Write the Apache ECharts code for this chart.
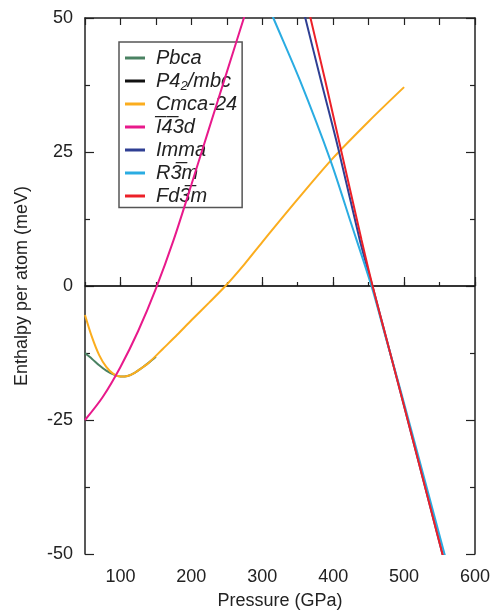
<!DOCTYPE html>
<html><head><meta charset="utf-8">
<script src="https://cdn.jsdelivr.net/npm/echarts@6/dist/echarts.min.js"></script>
<style>html,body{margin:0;padding:0;background:#fff}#c{width:494px;height:612px}</style>
</head><body><div id="c"></div>
<script>
// Series names (legend order)
var names = ['Pbca', 'P4_2/mbc', 'Cmca-24', 'I\u03054\u03053d', 'Imma', 'R3\u0305m', 'Fd3\u0305m'];
var colors = ['#4a8262', '#111111', '#fbad1e', '#e8198b', '#2f3f93', '#2aace2', '#ec2028'];

// [pressure GPa, enthalpy meV/atom]
var pbca = [[50,-12.5],[60,-13.6],[70,-14.8],[80,-15.8],[90,-16.5],[100,-16.9],[110,-16.8],[120,-16.2],[130,-15.3],[140,-14.3],[150,-13.2]];
var p42mbc = [[50,0],[600,0]];
var cmca24 = [[50,-5.4],[60,-9.6],[70,-12.9],[80,-15.1],[90,-16.4],[100,-16.9],[110,-16.8],[120,-16.2],[130,-15.3],[140,-14.3],[160,-11.7],[180,-9.1],[200,-6.4],[225,-3.1],[248,0],[275,4.1],[300,8.2],[350,16.2],[400,23.9],[450,30.7],[500,37.1]];
var i43d = [[50,-25],[75,-20.7],[100,-15.1],[125,-8.4],[150,-0.5],[175,8.6],[200,18.9],[225,29.4],[250,39.9],[275,50.4],[280,52.5]];
var imma = [[358,51.5],[360.7,50],[383,38.2],[406.5,26],[437.5,8.6],[449,3.0],[460,-2.3],[470,-7.3],[480,-12.3],[500,-22.4],[530,-37.7],[558,-52]];
var r3m = [[312,51.2],[315.6,50],[353,38.4],[396,23.5],[425,11.8],[454,0],[474,-9.5],[494,-19],[525,-34.2],[559,-51]];
var fd3m = [[366,51.2],[368,50],[389,38.2],[410,26],[440,8.6],[450,3.0],[460,-2.3],[470,-7.3],[480,-12.3],[500,-22.4],[530,-37.7],[558,-52]];
var seriesData = [pbca, p42mbc, cmca24, i43d, imma, r3m, fd3m];

var xTickLabels = [100, 200, 300, 400, 500, 600];
var yTickLabels = [-50, -25, 0, 25, 50];

var FONT = '"Liberation Sans", Arial, Helvetica, sans-serif';
var chart = echarts.init(document.getElementById('c'), null, {renderer: 'canvas'});

var series = seriesData.map(function (d, i) {
  return {
    name: names[i], type: 'line', data: d, xAxisIndex: 0, yAxisIndex: 0,
    symbol: 'none', smooth: i === 1 ? false : 0.3, clip: true,
    lineStyle: {color: colors[i], width: i === 1 ? 1.2 : 2},
    itemStyle: {color: colors[i]}, z: 2 + i
  };
});

var option = {
  animation: false,
  backgroundColor: '#fff',
  grid: {left: 85, right: 19, top: 18, bottom: 58, containLabel: false, outerBoundsMode: 'none'},
  legend: {
    orient: 'vertical', left: 119, top: 42,
    padding: [4.5, 5, 0, 6], itemGap: 0,
    borderColor: '#555', borderWidth: 1.5,
    icon: 'rect', itemWidth: 20, itemHeight: 3,
    data: names,
    textStyle: {
      fontFamily: FONT, fontSize: 20, fontStyle: 'italic', color: '#222', lineHeight: 23, padding: [0, 0, 0, 6],
      rich: {
        n: {fontFamily: FONT, fontSize: 20, fontStyle: 'italic', color: '#222', lineHeight: 23},
        s: {fontFamily: FONT, fontSize: 13, fontStyle: 'italic', color: '#222', lineHeight: 13, verticalAlign: 'bottom'}
      }
    },
    formatter: function (n) {
      if (n === 'P4_2/mbc') return '{n|P4}{s|2}{n|/mbc}';
      return '{n|' + n + '}';
    }
  },
  xAxis: [{
    type: 'value', position: 'bottom', min: 50, max: 600, interval: 50,
    name: 'Pressure (GPa)', nameLocation: 'middle', nameGap: 38,
    nameTextStyle: {fontFamily: FONT, fontSize: 18, color: '#222'},
    axisLine: {show: true, lineStyle: {color: '#222', width: 1.5}},
    axisTick: {show: true, inside: true, length: 9, lineStyle: {color: '#222', width: 1.2}, customValues: xTickLabels},
    axisLabel: {show: true, fontFamily: FONT, fontSize: 18, color: '#222', margin: 14, customValues: xTickLabels},
    splitLine: {show: false}
  }, {
    type: 'value', position: 'bottom', min: 50, max: 600, interval: 50,
    axisLine: {show: false},
    axisTick: {show: true, inside: true, length: 4, lineStyle: {color: '#222', width: 1.2}},
    axisLabel: {show: false}, splitLine: {show: false}
  }, {
    type: 'value', position: 'top', min: 50, max: 600, interval: 50,
    axisLine: {show: true, lineStyle: {color: '#222', width: 1.5}},
    axisTick: {show: true, inside: true, length: 7, lineStyle: {color: '#222', width: 1.2}},
    axisLabel: {show: false}, splitLine: {show: false}
  }],
  yAxis: [{
    type: 'value', position: 'left', min: -50, max: 50, interval: 25,
    name: 'Enthalpy per atom (meV)', nameLocation: 'middle', nameGap: 54,
    nameTextStyle: {fontFamily: FONT, fontSize: 18, color: '#222'},
    axisLine: {show: true, lineStyle: {color: '#222', width: 1.5}},
    axisTick: {show: true, inside: true, length: 9, lineStyle: {color: '#222', width: 1.2}},
    minorTick: {show: true, splitNumber: 2, length: 5, lineStyle: {color: '#222', width: 1.2}},
    axisLabel: {show: true, fontFamily: FONT, fontSize: 18, color: '#222', margin: 12},
    splitLine: {show: false}, minorSplitLine: {show: false}
  }, {
    type: 'value', position: 'right', min: -50, max: 50, interval: 25,
    axisLine: {show: true, lineStyle: {color: '#222', width: 1.5}},
    axisTick: {show: true, inside: true, length: 9, lineStyle: {color: '#222', width: 1.2}},
    minorTick: {show: true, splitNumber: 2, length: 5, lineStyle: {color: '#222', width: 1.2}},
    axisLabel: {show: false}, splitLine: {show: false}
  }],
  series: series
};
chart.setOption(option);
</script></body></html>
